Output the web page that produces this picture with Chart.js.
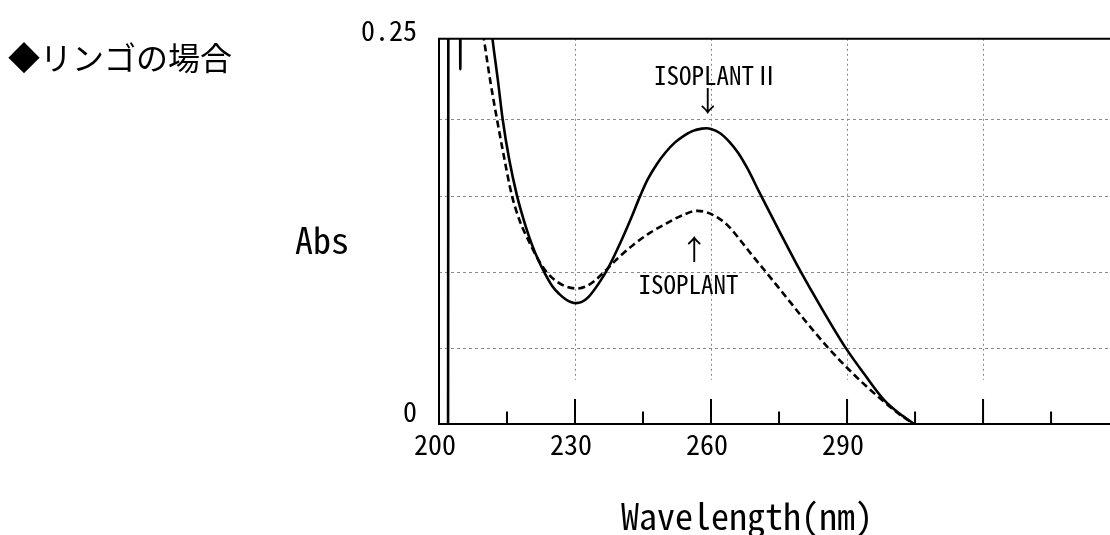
<!DOCTYPE html>
<html><head><meta charset="utf-8">
<script src="https://cdn.jsdelivr.net/npm/chart.js@4/dist/chart.umd.min.js"></script>
<style>
html,body{margin:0;padding:0;background:#fff;width:1110px;height:535px;overflow:hidden;}
#wrap{position:relative;width:1110px;height:535px;}
canvas{position:absolute;left:0;top:0;}
#title{position:absolute;left:8px;top:40px;font:32px/32px 'Noto Sans CJK JP',sans-serif;color:#000;white-space:nowrap;}
</style></head><body>
<div id="wrap"><canvas id="c" width="1110" height="535"></canvas><div id="title">◆リンゴの場合</div></div>
<script>
// ISOPLANT II (solid)
const wlIsoplant2 = [202.0, 202.1, 204.6, 204.7, 204.8, 210.3, 211.8, 213.0, 214.05, 215.5, 217.2, 219.0, 220.5, 222.0, 223.3, 225.0, 226.5, 228.0, 229.2, 230.2, 231.5, 233.0, 235.5, 237.5, 240.0, 242.2, 244.4, 246.0, 248.0, 250.0, 252.0, 254.0, 256.0, 258.0, 259.0, 260.0, 262.0, 264.0, 266.0, 268.0, 270.7, 275.0, 279.6, 284.5, 289.7, 294.0, 298.2, 301.5, 304.8];
const absIsoplant2 = [0, 0.35, 0.35, 0.233, 0.35, 0.295, 0.253, 0.2255, 0.200, 0.1735, 0.150, 0.131, 0.1178, 0.107, 0.0992, 0.0905, 0.0855, 0.0818, 0.0800, 0.0794, 0.0802, 0.0835, 0.0935, 0.1035, 0.119, 0.134, 0.150, 0.1605, 0.1705, 0.1785, 0.1848, 0.1893, 0.1925, 0.1940, 0.1942, 0.1937, 0.191, 0.1855, 0.178, 0.168, 0.152, 0.127, 0.101, 0.0755, 0.050, 0.032, 0.0157, 0.007, 0];
// ISOPLANT (dashed)
const wlIsoplant = [208.3, 209.9, 211.3, 212.8, 214.4, 216.0, 217.8, 219.9, 221.8, 223.8, 226.0, 228.0, 230.4, 232.5, 234.5, 236.3, 239.5, 242.9, 246.5, 250.3, 254.0, 257.0, 259.1, 261.5, 264.0, 266.5, 268.7, 272.2, 276.0, 281.0, 286.0, 291.5, 297.4, 301.5, 304.8];
const absIsoplant = [0.285, 0.253, 0.2255, 0.200, 0.1745, 0.151, 0.1335, 0.1195, 0.1085, 0.0995, 0.0935, 0.0903, 0.089, 0.0905, 0.0945, 0.0995, 0.109, 0.1178, 0.1255, 0.132, 0.1375, 0.140, 0.139, 0.1355, 0.1295, 0.1205, 0.1122, 0.0995, 0.0855, 0.067, 0.0495, 0.0325, 0.0165, 0.0065, 0];

const xTickValues = [200, 215, 230, 245, 260, 275, 290, 305, 320, 335];
const xMajorTicks = [230, 260, 290, 320];
const xTickLabels = [200, 230, 260, 290];
const yTickValues = [0, 0.05, 0.1, 0.15, 0.2, 0.25];
const yTickLabels = [0, 0.25];
const annotationTexts = ['ISOPLANTⅡ', '↓', '↑', 'ISOPLANT'];
const annotationX = [261.2, 259.25, 256.3, 255.05];
const annotationY = [0.2289, 0.2119, 0.1148, 0.0913];

const LATIN = "'Noto Sans Mono CJK JP','Noto Sans Mono CJK SC','Liberation Sans Narrow','DejaVu Sans Condensed',sans-serif";
const annotationFonts = ['25px ' + LATIN, "28px 'Noto Sans CJK JP',sans-serif", "28px 'Noto Sans CJK JP',sans-serif", '25px ' + LATIN];

const decor = {
  id: 'decor',
  beforeDatasetsDraw(chart) {
    const {ctx, chartArea: a, scales: {x, y}} = chart;
    ctx.save();
    ctx.strokeStyle = '#8a8a8a';
    ctx.lineWidth = 1;
    ctx.setLineDash([3, 3]);
    yTickValues.forEach(v => {
      if (v <= 0 || v >= 0.25) return;
      const py = Math.round(y.getPixelForValue(v)) + 0.5;
      ctx.beginPath(); ctx.moveTo(a.left, py); ctx.lineTo(a.right, py); ctx.stroke();
    });
    ctx.setLineDash([2, 3]);
    const gb = y.getPixelForValue(0.029);
    xMajorTicks.forEach(v => {
      const px = Math.round(x.getPixelForValue(v)) + 0.5;
      ctx.beginPath(); ctx.moveTo(px, a.top); ctx.lineTo(px, gb); ctx.stroke();
    });
    ctx.restore();
  },
  afterDatasetsDraw(chart) {
    const {ctx, chartArea: a, scales: {x, y}} = chart;
    ctx.save();
    ctx.strokeStyle = '#000';
    ctx.lineWidth = 2;
    ctx.setLineDash([]);
    ctx.beginPath();
    ctx.moveTo(a.right, a.top); ctx.lineTo(a.left, a.top); ctx.lineTo(a.left, a.bottom); ctx.lineTo(a.right, a.bottom);
    ctx.stroke();
    xTickValues.forEach(v => {
      if (v === 200) return;
      const px = x.getPixelForValue(v);
      const len = xMajorTicks.includes(v) ? 25 : 12.5;
      ctx.beginPath(); ctx.moveTo(px, a.bottom); ctx.lineTo(px, a.bottom - len); ctx.stroke();
    });
    ctx.fillStyle = '#000';
    ctx.textAlign = 'center';
    ctx.textBaseline = 'middle';
    annotationTexts.forEach((t, i) => {
      ctx.font = annotationFonts[i];
      ctx.fillText(t, x.getPixelForValue(annotationX[i]), y.getPixelForValue(annotationY[i]));
    });
    ctx.font = '36px ' + LATIN;
    ctx.fillText('Abs', 322, 240);
    ctx.fillText('Wavelength(nm)', 747, 516);
    ctx.restore();
  }
};

new Chart(document.getElementById('c'), {
  type: 'line',
  data: {
    datasets: [
      {
        label: 'ISOPLANTⅡ',
        data: wlIsoplant2.map((w, i) => ({x: w, y: absIsoplant2[i]})),
        borderColor: '#000', borderWidth: 2.6, pointRadius: 0, fill: false,
        cubicInterpolationMode: 'monotone'
      },
      {
        label: 'ISOPLANT',
        data: wlIsoplant.map((w, i) => ({x: w, y: absIsoplant[i]})),
        borderColor: '#000', borderWidth: 2.6, borderDash: [7, 4], pointRadius: 0, fill: false,
        cubicInterpolationMode: 'monotone'
      }
    ]
  },
  options: {
    responsive: false,
    animation: false,
    layout: {padding: {top: 36, left: 0, right: 0, bottom: 0}},
    plugins: {legend: {display: false}, tooltip: {enabled: false}, title: {display: false}},
    scales: {
      x: {
        type: 'linear', position: 'bottom', min: 200, max: 348,
        afterBuildTicks: s => { s.ticks = xTickValues.map(v => ({value: v})); },
        afterFit: s => { s.height = 111; },
        grid: {display: false, drawTicks: false},
        border: {display: false},
        ticks: {
          autoSkip: false, maxRotation: 0, color: '#000', padding: 4, labelOffset: -4,
          font: {family: LATIN, size: 28},
          callback: v => xTickLabels.includes(v) ? String(v) : ''
        }
      },
      y: {
        type: 'linear', min: 0, max: 0.253,
        afterBuildTicks: s => { s.ticks = yTickValues.map(v => ({value: v})); },
        afterFit: s => { s.width = 439; },
        grid: {display: false, drawTicks: false},
        border: {display: false},
        ticks: {
          color: '#000', padding: 22, labelOffset: -13,
          font: {family: LATIN, size: 28},
          callback: v => yTickLabels.includes(v) ? String(v) : ''
        }
      }
    }
  },
  plugins: [decor]
});
</script>
</body></html>
